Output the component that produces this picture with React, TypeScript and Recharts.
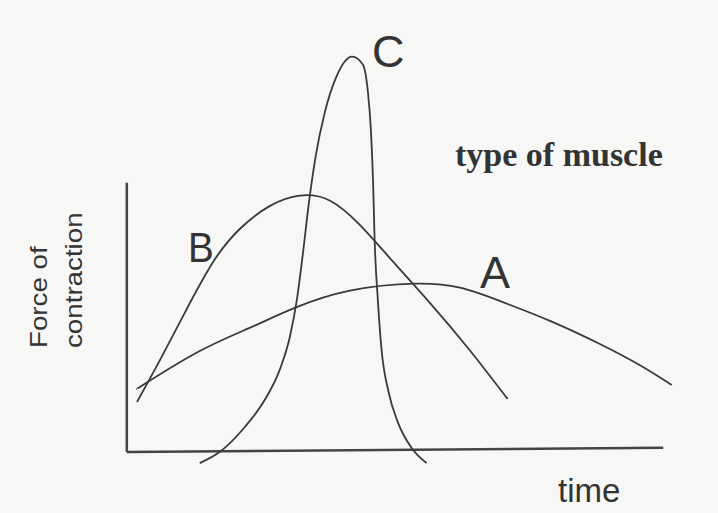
import React from "react";
import { LineChart, Line, XAxis, YAxis, ReferenceLine } from "recharts";

// Time runs 0..100 along the axis, force 0..100 up the axis
const timeA = [1.9, 3.9, 13.6, 22.9, 31.3, 41.6, 53.7, 62.1, 69.5, 78.9, 88.2, 95.6, 101.6];
const forceA = [23.4, 26.0, 37.5, 46.1, 53.5, 59.9, 62.5, 61.0, 56.1, 48.7, 40.1, 32.3, 24.9];

const timeB = [1.9, 6.2, 10.8, 16.0, 21.1, 26.7, 32.3, 37.9, 43.4, 49.0, 56.5, 63.9, 71.0];
const forceB = [18.6, 34.2, 51.7, 70.3, 82.9, 91.4, 95.2, 93.3, 84.4, 72.1, 55.4, 37.9, 19.7];

const timeC = [
  13.6, 17.3, 22.0, 25.7, 28.5, 30.4, 31.7, 32.8, 33.9, 35.2, 36.9, 39.0, 42.0,
  44.0, 44.9, 45.5, 45.9, 46.2, 46.8, 47.5, 48.8, 50.5, 53.1, 55.9,
];
const forceC = [
  -4.1, 0, 9.3, 19.3, 30.5, 42.8, 56.5, 73.2, 91.8, 109.7, 126.0, 139.0, 146.8,
  143.9, 134.6, 119.7, 101.1, 78.8, 56.5, 37.9, 22.3, 11.2, 1.5, -4.1,
];

const curveLabels = ["A", "B", "C"];

const toPoints = (t: number[], f: number[]) => t.map((x, i) => ({ t: x, f: f[i] }));

const ink = "#3a3a3a";

export default function App() {
  const dataA = toPoints(timeA, forceA);
  const dataB = toPoints(timeB, forceB);
  const dataC = toPoints(timeC, forceC);

  return (
    <div
      style={{
        position: "absolute",
        left: 0,
        top: 0,
        width: 718,
        height: 513,
        background: "#f7f7f6",
      }}
    >
      <LineChart
        width={718}
        height={513}
        margin={{ top: 48, right: 28, bottom: 34, left: 100 }}
      >
        <XAxis type="number" dataKey="t" domain={[-5, 105]} hide />
        <YAxis type="number" dataKey="f" domain={[-10, 150]} hide />
        {/* axes drawn as plain segments */}
        <ReferenceLine
          segment={[{ x: 0, y: 0 }, { x: 100, y: 1.6 }]}
          stroke="#444"
          strokeWidth={2.5}
          ifOverflow="visible"
        />
        <ReferenceLine
          segment={[{ x: 0, y: 0 }, { x: 0, y: 100 }]}
          stroke="#444"
          strokeWidth={2.5}
          ifOverflow="visible"
        />
        <Line data={dataA} dataKey="f" type="natural" stroke={ink} strokeWidth={1.8} dot={false} isAnimationActive={false} />
        <Line data={dataB} dataKey="f" type="natural" stroke={ink} strokeWidth={1.8} dot={false} isAnimationActive={false} />
        <Line data={dataC} dataKey="f" type="monotone" stroke={ink} strokeWidth={1.8} dot={false} isAnimationActive={false} />
      </LineChart>
      <svg
        width={718}
        height={513}
        style={{ position: "absolute", left: 0, top: 0, pointerEvents: "none" }}
      >
        <g fontFamily="'Liberation Sans', Arial, sans-serif" fill="#333">
          <text x={480} y={288} fontSize={45}>{curveLabels[0]}</text>
          <text transform="translate(188,262) scale(0.92,1)" fontSize={42}>{curveLabels[1]}</text>
          <text x={372} y={67} fontSize={45}>{curveLabels[2]}</text>
          <text x={558} y={502} fontSize={33}>time</text>
          <text transform="translate(47,348) rotate(-90) scale(1.18,1)" fontSize={23.5}>Force of</text>
          <text transform="translate(82,348) rotate(-90) scale(1.18,1)" fontSize={23.5}>contraction</text>
        </g>
        <text
          x={455}
          y={166}
          fontFamily="'Liberation Serif', 'Times New Roman', serif"
          fontWeight="bold"
          fontSize={34}
          fill="#333"
        >
          type of muscle
        </text>
      </svg>
    </div>
  );
}
